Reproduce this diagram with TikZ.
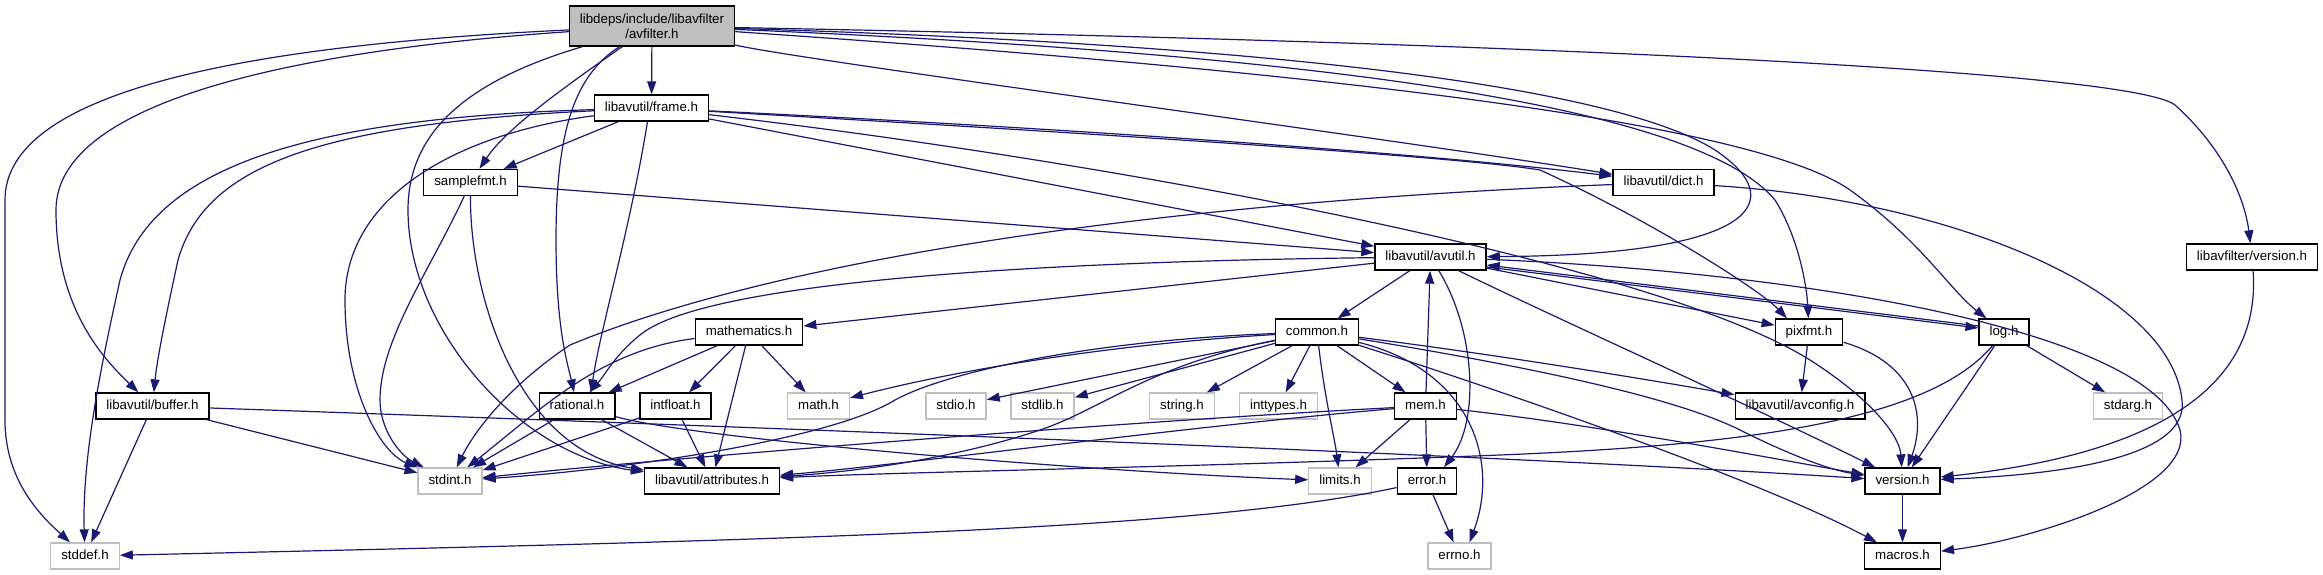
\documentclass[tikz,border=0pt]{standalone}
\usepackage{fontspec}
\setmainfont{Liberation Sans}
\usetikzlibrary{arrows.meta}
\definecolor{edgeblue}{RGB}{25,25,112}
\definecolor{sysgray}{RGB}{191,191,191}
\definecolor{maingray}{RGB}{191,191,191}

\begin{document}
\begin{tikzpicture}[x=1pt, y=-1pt,
    font=\fontsize{13.3}{15}\selectfont,
    hdr/.style={draw=black, line width=1.3pt, fill=white, inner xsep=10.5pt,
                inner ysep=0pt, minimum height=26pt, text height=9.6pt, text depth=2.8pt},
    syshdr/.style={hdr, draw=sysgray},
    mainhdr/.style={draw=black, line width=1.3pt, fill=maingray, inner xsep=10.5pt,
                    minimum height=40pt, align=center},
    arr/.style={-{Triangle[length=13pt, width=9pt]}, line width=1.2pt, edgeblue},
]
    \useasboundingbox (0,0) rectangle (2323,575);

    \node[mainhdr] (avfilter) at (652,26) {libdeps/include/libavfilter\\/avfilter.h};
    \node[hdr] (frame) at (651.5,108) {libavutil/frame.h};
    \node[hdr] (samplefmt) at (470.5,182.5) {samplefmt.h};
    \node[hdr] (dict) at (1663.5,182.5) {libavutil/dict.h};
    \node[hdr] (avutil) at (1430.5,257) {libavutil/avutil.h};
    \node[hdr] (lavfversion) at (2252,257) {libavfilter/version.h};
    \node[hdr] (mathematics) at (749,332) {mathematics.h};
    \node[hdr] (common) at (1317,332) {common.h};
    \node[hdr] (pixfmt) at (1809,332) {pixfmt.h};
    \node[hdr] (logh) at (2004,332) {log.h};
    \node[hdr] (buffer) at (152.5,406) {libavutil/buffer.h};
    \node[hdr] (rational) at (577,406) {rational.h};
    \node[hdr] (intfloat) at (675.5,406) {intfloat.h};
    \node[syshdr] (mathh) at (818.5,406) {math.h};
    \node[syshdr] (stdio) at (956,406) {stdio.h};
    \node[syshdr] (stdlib) at (1042.5,406) {stdlib.h};
    \node[syshdr] (stringh) at (1182,406) {string.h};
    \node[syshdr] (inttypes) at (1278.5,406) {inttypes.h};
    \node[hdr] (mem) at (1425.5,406) {mem.h};
    \node[hdr] (avconfig) at (1800,406) {libavutil/avconfig.h};
    \node[syshdr] (stdarg) at (2128,406) {stdarg.h};
    \node[syshdr] (stdint) at (450,481) {stdint.h};
    \node[hdr] (attributes) at (712,481) {libavutil/attributes.h};
    \node[syshdr] (limits) at (1340,481) {limits.h};
    \node[hdr] (errorh) at (1427,481) {error.h};
    \node[hdr] (version) at (1902.5,481) {version.h};
    \node[syshdr] (stddef) at (85,556) {stddef.h};
    \node[syshdr] (errno) at (1459.5,556) {errno.h};
    \node[hdr] (macros) at (1902.5,556) {macros.h};

    \draw[arr] (avfilter) -- (frame);
    \draw[arr] (avfilter) .. controls (560,90) and (505,130) .. (samplefmt);
    \draw[arr] (avfilter) .. controls (250,45) and (5,90) .. (5,200) -- (5,420)
        .. controls (5,480) and (40,515) .. (stddef);
    \draw[arr] (avfilter) .. controls (300,50) and (56,100) .. (56,210)
        .. controls (56,310) and (105,360) .. (buffer);
    \draw[arr] (avfilter) .. controls (470,80) and (408,130) .. (408,210)
        .. controls (408,330) and (520,455) .. (attributes);
    \draw[arr] (avfilter) .. controls (575,75) and (556,130) .. (556,240)
        .. controls (556,330) and (568,365) .. (rational);
    \draw[arr] (avfilter) .. controls (800,60) and (1400,140) .. (dict);
    \draw[arr] (avfilter) .. controls (1300,45) and (1620,90) .. (1715,150)
        .. controls (1790,200) and (1760,255) .. (avutil);
    \draw[arr] (avfilter) .. controls (1350,55) and (1700,110) .. (1775,200)
        .. controls (1800,240) and (1807,290) .. (pixfmt);
    \draw[arr] (avfilter) .. controls (1300,70) and (1750,120) .. (1850,190)
        .. controls (1920,240) and (1950,290) .. (logh);
    \draw[arr] (avfilter) .. controls (1500,42) and (2130,70) .. (2175,105)
        .. controls (2225,150) and (2245,200) .. (lavfversion);

    \draw[arr] (frame) -- (samplefmt);
    \draw[arr] (frame) .. controls (300,118) and (150,170) .. (120,280)
        .. controls (100,370) and (82,460) .. (stddef);
    \draw[arr] (frame) .. controls (320,124) and (205,165) .. (178,260)
        .. controls (165,320) and (157,360) .. (buffer);
    \draw[arr] (frame) .. controls (450,135) and (345,200) .. (345,300)
        .. controls (345,390) and (380,452) .. (stdint);
    \draw[arr] ([xshift=-4pt]frame.south) .. controls (630,230) and (600,330) .. ([xshift=14pt]rational.north);
    \draw[arr] (frame) -- (avutil);
    \draw[arr] (frame) .. controls (1000,125) and (1400,150) .. (dict);
    \draw[arr] (frame) .. controls (1000,128) and (1450,155) .. (1540,170)
        .. controls (1650,220) and (1760,290) .. ([xshift=-22pt]pixfmt.north);
    \draw[arr] (frame) .. controls (1100,160) and (1650,260) .. (1810,360)
        .. controls (1880,405) and (1900,440) .. (version);

    \draw[arr] (samplefmt) -- (avutil);
    \draw[arr] (samplefmt) .. controls (470,300) and (520,450) .. (attributes);
    \draw[arr] (samplefmt) .. controls (430,270) and (380,340) .. (380,400)
        .. controls (380,430) and (400,455) .. (stdint);

    \draw[arr] (dict) .. controls (1100,205) and (750,270) .. (570,345)
        .. controls (510,385) and (475,430) .. (stdint);
    \draw[arr] (dict) .. controls (1950,200) and (2170,290) .. (2182,400)
        .. controls (2190,460) and (2050,475) .. (version);

    \draw[arr] (avutil) -- (common);
    \draw[arr] (avutil) -- (mathematics);
    \draw[arr] (avutil) .. controls (1000,262) and (700,285) .. (640,335)
        .. controls (615,355) and (605,375) .. (rational);
    \draw[arr] (avutil) .. controls (1475,330) and (1480,420) .. ([xshift=17pt]errorh.north);
    \draw[arr] (avutil) .. controls (1560,320) and (1760,410) .. (version);
    \draw[arr] (avutil) .. controls (1800,272) and (2150,330) .. (2180,430)
        .. controls (2195,490) and (2030,540) .. (macros);
    \draw[arr] ([yshift=-10pt]avutil.east) -- ([yshift=4pt]logh.west);
    \draw[arr] (avutil) -- (pixfmt);

    \draw[arr] ([yshift=6pt]logh.west) -- ([yshift=-8pt]avutil.east);
    \draw[arr] (logh) -- (stdarg);
    \draw[arr] (logh) -- (version);
    \draw[arr] (logh) .. controls (1930,420) and (1750,445) .. (1500,455)
        .. controls (1200,467) and (900,472) .. (attributes);

    \draw[arr] (lavfversion) .. controls (2262,390) and (2150,455) .. (version);
    \draw[arr] (version) -- (macros);
    \draw[arr] (pixfmt) -- (avconfig);
    \draw[arr] (pixfmt) .. controls (1920,365) and (1925,420) .. (version);

    \draw[arr] (common) .. controls (1100,345) and (950,372) .. (mathh);
    \draw[arr] (common) -- (stdio);
    \draw[arr] (common) -- (stdlib);
    \draw[arr] (common) -- (stringh);
    \draw[arr] (common) -- (inttypes);
    \draw[arr] (common) -- (mem);
    \draw[arr] (common) .. controls (1325,400) and (1335,440) .. (limits);
    \draw[arr] (common) .. controls (1470,370) and (1500,460) .. ([xshift=10pt]errno.north);
    \draw[arr] (common) .. controls (1100,340) and (950,370) .. (895,400)
        .. controls (830,440) and (620,470) .. (stdint);
    \draw[arr] (common) .. controls (1150,365) and (1100,410) .. (1040,430)
        .. controls (950,460) and (850,472) .. (attributes);
    \draw[arr] (common) .. controls (1500,390) and (1760,480) .. (macros);
    \draw[arr] (common) .. controls (1550,370) and (1680,400) .. (1740,430)
        .. controls (1790,455) and (1830,470) .. (version);
    \draw[arr] (common) .. controls (1500,355) and (1650,380) .. (avconfig);

    \draw[arr] (mem) -- (avutil);
    \draw[arr] (mem) -- (errorh);
    \draw[arr] (mem) -- (limits);
    \draw[arr] (mem) .. controls (1600,425) and (1780,460) .. (version);
    \draw[arr] (mem) .. controls (1200,425) and (900,465) .. (attributes);
    \draw[arr] (mem) .. controls (1150,420) and (700,455) .. (stdint);

    \draw[arr] (errorh) -- (errno);
    \draw[arr] (errorh) .. controls (1200,530) and (800,540) .. (stddef);

    \draw[arr] (buffer) -- (stddef);
    \draw[arr] (buffer) -- (stdint);
    \draw[arr] (buffer) .. controls (700,425) and (1500,455) .. (version);

    \draw[arr] (rational) -- (stdint);
    \draw[arr] (rational) -- (attributes);
    \draw[arr] (rational) .. controls (700,440) and (1100,472) .. (limits);

    \draw[arr] (intfloat) -- (stdint);
    \draw[arr] (intfloat) -- (attributes);

    \draw[arr] (mathematics) -- (rational);
    \draw[arr] (mathematics) -- (intfloat);
    \draw[arr] (mathematics) -- (attributes);
    \draw[arr] (mathematics) -- (mathh);
    \draw[arr] (mathematics) .. controls (600,350) and (540,410) .. (stdint);
\end{tikzpicture}
\end{document}
